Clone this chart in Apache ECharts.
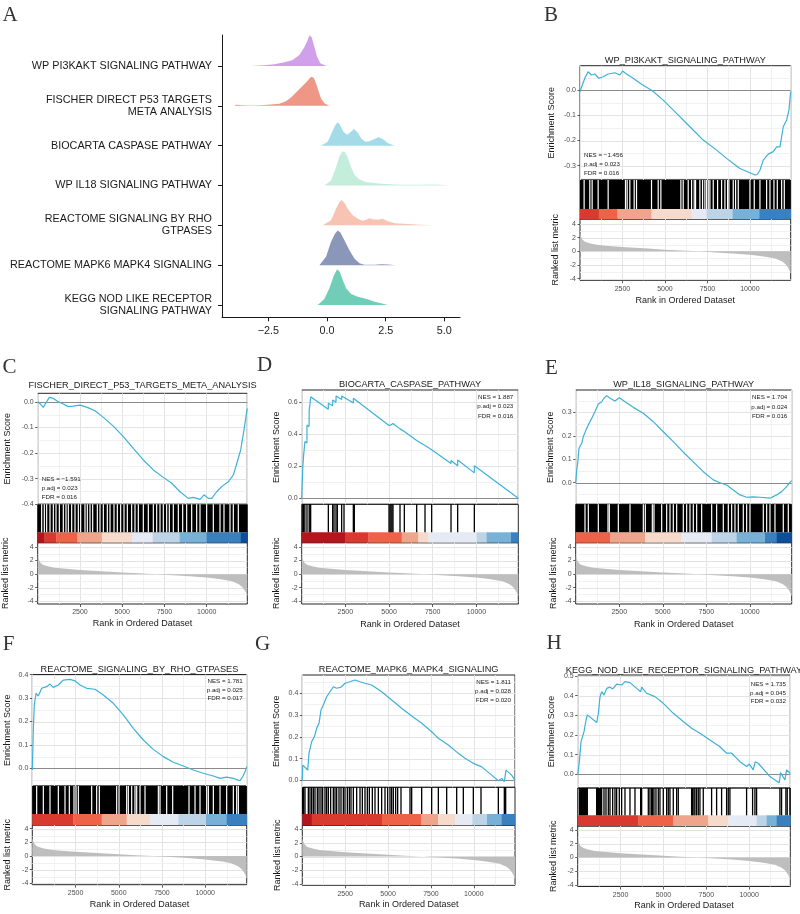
<!DOCTYPE html>
<html><head><meta charset="utf-8">
<script src="https://cdn.jsdelivr.net/npm/echarts@6/dist/echarts.min.js"></script>
<style>html,body{margin:0;padding:0;background:#fff}#c{width:800px;height:914px}</style>
</head><body><div id="c"></div>
<script>
// ================= DATA =================
// Panel A: ridge plot (top to bottom)
const ridgeLabels = ['WP PI3KAKT SIGNALING PATHWAY','FISCHER DIRECT P53 TARGETS\nMETA ANALYSIS','BIOCARTA CASPASE PATHWAY','WP IL18 SIGNALING PATHWAY','REACTOME SIGNALING BY RHO\nGTPASES','REACTOME MAPK6 MAPK4 SIGNALING','KEGG NOD LIKE RECEPTOR\nSIGNALING PATHWAY'];
const ridgeXTicks = [-2.5, 0, 2.5, 5];
const ridgeX_pi3k = [-3.245,-2.676,-2.249,-1.822,-1.608,-1.466,-1.181,-0.968,-0.854,-0.754,-0.655,-0.541,-0.427,-0.285,-0.043,0.171];
const ridgeH_pi3k = [0,0.017,0.042,0.092,0.126,0.151,0.276,0.469,0.611,0.770,0.720,0.485,0.234,0.067,0.008,0];
const ridgeX_p53 = [-3.957,-3.886,-3.53,-3.103,-2.533,-2.035,-1.751,-1.537,-1.324,-1.11,-0.897,-0.754,-0.669,-0.569,-0.47,-0.37,-0.256,-0.114,0.1];
const ridgeH_p53 = [0,0.025,0.017,0.008,0.025,0.05,0.117,0.209,0.335,0.46,0.586,0.686,0.728,0.703,0.569,0.377,0.184,0.067,0];
const ridgeX_casp = [-0.256,0.028,0.242,0.356,0.455,0.555,0.697,0.854,1.025,1.139,1.281,1.452,1.623,1.808,2.021,2.192,2.377,2.59,2.875];
const ridgeH_casp = [0,0.1,0.377,0.519,0.586,0.519,0.351,0.276,0.351,0.418,0.351,0.184,0.1,0.109,0.167,0.209,0.167,0.067,0];
const ridgeX_il18 = [-0.114,0.171,0.384,0.527,0.669,0.769,0.882,1.025,1.167,1.381,1.665,1.95,2.306,2.875,3.444,4.014,4.441,4.868,5.152];
const ridgeH_il18 = [0,0.126,0.46,0.736,0.862,0.837,0.711,0.46,0.268,0.151,0.084,0.067,0.042,0.025,0.017,0.017,0.025,0.017,0];
const ridgeX_rho = [-0.185,0.171,0.384,0.527,0.626,0.74,0.882,1.096,1.309,1.523,1.665,1.808,1.95,2.163,2.377,2.59,2.875,3.444,4.014,4.583];
const ridgeH_rho = [0,0.126,0.418,0.586,0.636,0.569,0.418,0.251,0.167,0.117,0.142,0.176,0.151,0.142,0.167,0.1,0.05,0.033,0.017,0];
const ridgeX_mapk = [-0.327,-0.043,0.171,0.342,0.455,0.569,0.74,0.954,1.167,1.381,1.594,2.021,2.306,2.59,2.946];
const ridgeH_mapk = [0,0.209,0.586,0.795,0.870,0.820,0.628,0.377,0.167,0.05,0.008,0.008,0.025,0.017,0];
const ridgeX_nod = [-0.399,-0.114,0.1,0.285,0.427,0.541,0.669,0.811,1.025,1.309,1.736,2.021,2.306,2.59];
const ridgeH_nod = [0,0.151,0.418,0.736,0.895,0.837,0.628,0.418,0.276,0.209,0.142,0.084,0.042,0];

// GSEA panels
const rankMax = 12400;
const rankTicks = [2500, 5000, 7500, 10000];
const metricTicks = [-4, -2, 0, 2, 4];
const rankMetric = [[0,2.7],[50,2.2],[150,1.7],[300,1.4],[600,1.15],[1000,0.95],[1500,0.82],[2500,0.62],[4000,0.4],[5000,0.25],[6000,0.12],[7000,0],[8000,-0.15],[9000,-0.3],[10000,-0.5],[10600,-0.68],[11000,-0.82],[11500,-1.05],[11900,-1.5],[12100,-1.9],[12250,-2.4],[12350,-2.9],[12400,-3.3]];

const titleB = 'WP_PI3KAKT_SIGNALING_PATHWAY';
const statsB = ['NES = \u22121.456','p.adj = 0.023','FDR = 0.016'];
const esTicksB = [-0.3,-0.2,-0.1,0];
const esB = [[0,-0.005],[88,0.012],[283,0.048],[477,0.074],[677,0.061],[872,0.065],[1107,0.048],[1360,0.054],[1655,0.065],[2050,0.070],[2344,0.061],[2503,0.077],[2739,0.065],[3128,0.048],[3622,0.024],[4111,0.004],[4306,-0.005],[4895,-0.039],[5684,-0.092],[6467,-0.145],[7251,-0.198],[8040,-0.238],[8629,-0.271],[9018,-0.291],[9412,-0.311],[10001,-0.328],[10296,-0.337],[10431,-0.335],[10590,-0.318],[10784,-0.278],[11079,-0.254],[11374,-0.244],[11574,-0.225],[11768,-0.225],[11963,-0.145],[12163,-0.118],[12298,-0.078],[12400,-0.005]];
const gapsB = [243,577,715,1068,1657,2678,2776,2933,3188,3326,4209,4602,4759,5937,6074,6369,6566,6722,6801,7056,7213,7351,7449,7547,7645,7841,8097,8333,8529,8686,8764,9019,9157,9314,10001,10256,10590,10983,11179,11415,11611,11867,12023];
const segB = [[0,1107,1],[1107,2207,2],[2207,4209,3],[4209,6566,4],[6566,7449,5],[7449,8980,6],[8980,10551,7],[10551,12400,8]];

const titleC = 'FISCHER_DIRECT_P53_TARGETS_META_ANALYSIS';
const statsC = ['NES = \u22121.591','p.adj = 0.023','FDR = 0.016'];
const esTicksC = [-0.4,-0.3,-0.2,-0.1,0];
const esC = [[0,0.0],[177,-0.010],[331,-0.022],[473,-0.006],[686,0.017],[923,0.013],[1219,0.0],[1514,-0.009],[1810,-0.019],[2106,-0.017],[2502,-0.013],[2934,-0.022],[3390,-0.035],[3881,-0.061],[4473,-0.095],[5065,-0.136],[5656,-0.182],[6248,-0.227],[6840,-0.266],[7431,-0.295],[7928,-0.318],[8419,-0.351],[8910,-0.377],[9206,-0.373],[9600,-0.381],[9837,-0.363],[10092,-0.377],[10293,-0.377],[10589,-0.351],[10885,-0.331],[11275,-0.312],[11571,-0.286],[11808,-0.234],[12009,-0.188],[12204,-0.110],[12322,-0.058],[12400,-0.026]];
const gapsC = [235,392,530,728,925,1083,1280,1516,1674,1812,2010,2207,2404,2542,2798,2936,3094,3252,3528,3686,3883,4119,4277,4514,4711,4908,5106,5303,5559,5756,5953,6249,6545,6841,7038,7235,7432,7630,7787,8024,8320,8576,8813,9109,9405,9602,9996,10390,10785,11021,11376,11573,11869];
const segC = [[0,400,0],[400,1100,1],[1100,2350,2],[2350,3800,3],[3800,5580,4],[5580,6800,5],[6800,8400,6],[8400,9980,7],[9980,12000,8],[12000,12400,9]];

const titleD = 'BIOCARTA_CASPASE_PATHWAY';
const statsD = ['NES = 1.887','p.adj = 0.023','FDR = 0.016'];
const esTicksD = [0,0.2,0.4,0.6];
const esD = [[0,0],[60,0],[62,0.195],[110,0.19],[112,0.27],[180,0.262],[182,0.355],[300,0.345],[302,0.458],[425,0.449],[427,0.552],[473,0.548],[475,0.59],[511,0.587],[513,0.635],[1523,0.556],[1526,0.594],[1773,0.578],[1776,0.614],[1964,0.600],[1967,0.639],[2288,0.617],[2291,0.639],[2956,0.596],[2959,0.625],[4998,0.455],[5000,0.462],[5055,0.458],[5057,0.464],[5113,0.459],[5115,0.465],[5170,0.460],[5172,0.466],[5227,0.461],[5229,0.467],[5628,0.434],[5630,0.438],[5876,0.417],[5878,0.421],[6582,0.362],[6584,0.37],[7059,0.330],[7061,0.336],[7441,0.304],[7443,0.31],[8548,0.218],[8550,0.236],[8929,0.204],[8931,0.239],[9883,0.159],[9885,0.204],[12400,0]];
const hitsD = [60,112,182,302,427,475,513,1525,1773,1849,1964,2040,2288,2422,2956,3013,4998,5055,5113,5170,5227,5628,5876,6582,7059,7441,8548,8929,9883];
const segD = [[0,2479,0],[2479,3815,1],[3815,5723,2],[5723,6677,3],[6677,7250,4],[7250,10019,5],[10019,10591,6],[10591,11982,7],[11982,12400,8]];

const titleE = 'WP_IL18_SIGNALING_PATHWAY';
const statsE = ['NES = 1.704','p.adj = 0.024','FDR = 0.016'];
const esTicksE = [0,0.1,0.2,0.3];
const esE = [[0,0],[57,0.054],[115,0.083],[189,0.147],[344,0.168],[436,0.196],[591,0.225],[723,0.246],[918,0.274],[1108,0.303],[1297,0.335],[1492,0.345],[1624,0.360],[1779,0.371],[1969,0.360],[2256,0.348],[2503,0.362],[2830,0.345],[3306,0.321],[3880,0.296],[4454,0.260],[5028,0.217],[5602,0.175],[6176,0.130],[6750,0.089],[7324,0.047],[7898,0.012],[8280,0.0],[8667,-0.010],[9044,-0.031],[9431,-0.052],[9815,-0.062],[10194,-0.060],[10579,-0.062],[11153,-0.066],[11536,-0.052],[11823,-0.038],[12110,-0.017],[12242,-0.003],[12400,0.009]];
const gapsE = [534,725,1299,1854,1930,2447,3117,3882,3997,4399,4494,4935,5222,5413,5604,5796,6178,6370,6561,6752,6944,7231,7805,8092,8474,8761,8953,9144,9335,9622,9814,10005,10770,10962,11153,11440,11918,12205];
const segE = [[0,1969,2],[1969,3978,3],[3978,6083,4],[6083,7805,5],[7805,9240,6],[9240,10866,7],[10866,11536,8],[11536,12400,9]];

const titleF = 'REACTOME_SIGNALING_BY_RHO_GTPASES';
const statsF = ['NES = 1.781','p.adj = 0.025','FDR = 0.017'];
const esTicksF = [0,0.1,0.2,0.3,0.4];
const esF = [[0,-0.007],[58,0.164],[116,0.271],[214,0.32],[347,0.309],[544,0.342],[833,0.349],[1024,0.36],[1215,0.346],[1504,0.356],[1793,0.377],[2181,0.380],[2470,0.374],[2759,0.356],[3146,0.342],[3627,0.338],[4107,0.313],[4685,0.278],[5263,0.228],[5842,0.171],[6420,0.121],[6999,0.081],[7577,0.050],[8155,0.026],[8734,0.010],[9312,-0.007],[9891,-0.021],[10469,-0.033],[10857,-0.043],[11243,-0.038],[11626,-0.043],[12013,-0.053],[12170,-0.036],[12303,-0.015],[12400,0.007]];
const gapsF = [253,638,1024,1506,1891,2142,2412,2528,2663,3434,3723,3877,4880,5015,5458,5554,5748,5940,6037,6229,6519,7290,7386,7772,8119,9063,9411,9700,10086,10182,10471,10857,11242,11628,11821,11917];
const segF = [[0,2373,1],[2373,4012,2],[4012,5458,3],[5458,6808,4],[6808,8447,5],[8447,10047,6],[10047,11242,7],[11242,12400,8]];

const titleG = 'REACTOME_MAPK6_MAPK4_SIGNALING';
const statsG = ['NES = 1.811','p.adj = 0.028','FDR = 0.020'];
const esTicksG = [0,0.1,0.2,0.3,0.4];
const esG = [[0,0],[23,0.07],[157,0.06],[315,0.047],[391,0.124],[548,0.178],[700,0.2],[840,0.239],[974,0.262],[1090,0.323],[1224,0.346],[1422,0.384],[1615,0.407],[1808,0.430],[2004,0.423],[2256,0.428],[2489,0.446],[2780,0.453],[3072,0.461],[3364,0.453],[3655,0.446],[4044,0.438],[4627,0.407],[5210,0.369],[5793,0.331],[6376,0.296],[6960,0.262],[7543,0.223],[7931,0.193],[8512,0.162],[9096,0.124],[9485,0.101],[9970,0.078],[10459,0.062],[11042,0.024],[11427,-0.002],[11625,0.009],[11777,-0.006],[11876,0.047],[12208,0.024],[12400,0.0]];
const hitsG = [20,80,157,352,449,546,643,740,876,974,1090,1187,1323,1420,1518,1654,1809,1906,2004,2140,2256,2392,2489,2625,2742,2839,2975,3170,3364,3500,3655,3791,3908,4083,4238,4433,4627,4821,4977,5113,5210,5307,5443,5560,5754,6279,6376,6959,7542,7931,8417,9000,9388,9971,10418,11429,11778,11856];
const segG = [[0,550,0],[550,4641,1],[4641,6920,2],[6920,7917,3],[7917,8914,4],[8914,9911,5],[9911,10768,6],[10768,11625,7],[11625,12400,8]];

const titleH = 'KEGG_NOD_LIKE_RECEPTOR_SIGNALING_PATHWAY';
const statsH = ['NES = 1.735','p.adj = 0.045','FDR = 0.032'];
const esTicksH = [0,0.1,0.2,0.3,0.4,0.5];
const esH = [[0,0],[97,0.064],[194,0.166],[291,0.174],[369,0.217],[486,0.276],[563,0.302],[1108,0.263],[1205,0.310],[1302,0.395],[1399,0.420],[1535,0.403],[1691,0.437],[1883,0.443],[2041,0.434],[2274,0.459],[2565,0.454],[2757,0.471],[3049,0.466],[3440,0.437],[3673,0.420],[3731,0.443],[4023,0.412],[4507,0.395],[4991,0.361],[5575,0.310],[6157,0.268],[6646,0.234],[7130,0.209],[7713,0.174],[8296,0.140],[8687,0.107],[8978,0.107],[9462,0.064],[9853,0.039],[10004,0.052],[10237,0.022],[10354,0.064],[10529,0.056],[11211,-0.012],[11753,-0.043],[11835,0.008],[12087,-0.029],[12184,0.022],[12400,0.005]];
const hitsH = [95,153,212,270,328,387,445,503,561,1106,1164,1223,1281,1339,1397,1533,1650,1786,1883,2039,2175,2272,2427,2563,2758,3049,3341,3671,3730,4118,4215,4312,4371,4448,4565,4701,4798,4992,5187,5284,5381,5575,5770,5867,6644,6703,6780,6839,6936,7033,7130,7324,7810,8102,8393,8685,8782,8879,9851,10201,10337,10434,11794,11891,12144,12221,12377];
const segH = [[0,3535,1],[3535,5575,2],[5575,7616,3],[7616,8782,4],[8782,10434,5],[10434,11017,6],[11017,11600,7],[11600,12400,8]];

// ================= STYLE / LAYOUT =================
const SANS = '"Liberation Sans", Arial, Helvetica, sans-serif';
const SERIF = '"Liberation Serif", "Times New Roman", serif';
const GRID_MAJ = '#e3e3e3', GRID_MIN = '#eeeeee', BORDER = '#262626';
const ES_COLOR = '#3db1d7';
const PAL = ['#b3151d','#d93a30','#ee6347','#efa58b','#f6dacb','#e6eaf5','#bcd4e6','#78b1d8','#3a80be','#0e4e98'];
const ridgeColors = ['#d0a0eb','#ee9787','#a4dbe9','#c4eedb','#f7c4b3','#8b97b9','#70cdb8'];

const LAYOUT = {
  B:{left:580, right:790.7, esTop:65.7, esBot:180, hitBot:209, cbBot:219, rkBot:280.3, esMin:-0.357, esMax:0.098, rkMin:-4.23, rkMax:4.73, titleY:60, statsX:584, statsY:[155,164.3,173.3], statsAlign:'left', esNameX:552, rkNameX:556, xNameY:301, xLabY:290, letter:[551,15.5]},
  C:{left:37.7, right:247.3, esTop:393.3, esBot:504.3, hitBot:532.3, cbBot:542.7, rkBot:604, esMin:-0.4, esMax:0.033, rkMin:-4.4, rkMax:4.63, titleY:385.7, statsX:41.7, statsY:[479.3,488.7,497.7], statsAlign:'left', esNameX:8, rkNameX:6, xNameY:623.5, xLabY:613, letter:[9.5,367]},
  D:{left:301.7, right:518.3, esTop:390, esBot:504.3, hitBot:532.3, cbBot:542.7, rkBot:604, esMin:-0.0375, esMax:0.677, rkMin:-4.4, rkMax:4.63, titleY:384.3, statsX:513.3, statsY:[397.3,406.7,416], statsAlign:'right', esNameX:277, rkNameX:277, xNameY:624.3, xLabY:613.3, letter:[264.5,365]},
  E:{left:575.7, right:791.7, esTop:390, esBot:504.3, hitBot:532.3, cbBot:542.7, rkBot:604, esMin:-0.092, esMax:0.395, rkMin:-4.4, rkMax:4.63, titleY:384.3, statsX:787.3, statsY:[397.7,407,416.7], statsAlign:'right', esNameX:550.5, rkNameX:553.5, xNameY:624.3, xLabY:613, letter:[551.5,368.5]},
  F:{left:32.3, right:246.7, esTop:674.5, esBot:786, hitBot:814, cbBot:825, rkBot:884.7, esMin:-0.0756, esMax:0.401, rkMin:-4.2, rkMax:4.54, titleY:669, statsX:242.7, statsY:[681,690,698.3], statsAlign:'right', esNameX:7.5, rkNameX:7.5, xNameY:904.7, xLabY:894.3, letter:[8.5,644.5]},
  G:{left:302.3, right:515, esTop:675, esBot:787.3, hitBot:814, cbBot:825.3, rkBot:885.3, esMin:-0.032, esMax:0.484, rkMin:-4.19, rkMax:4.54, titleY:669, statsX:511, statsY:[682.3,691,700], statsAlign:'right', esNameX:277, rkNameX:278, xNameY:905, xLabY:895, letter:[262.5,644]},
  H:{left:577.7, right:790.3, esTop:675, esBot:788, hitBot:815.3, cbBot:826, rkBot:886.5, esMin:-0.07, esMax:0.505, rkMin:-4.22, rkMax:4.58, titleY:670, statsX:786, statsY:[684.3,693.3,701], statsAlign:'right', esNameX:552, rkNameX:554, xNameY:906, xLabY:895.3, letter:[554,643.5]}
};

const panels = [
  {id:'B', title:titleB, stats:statsB, ticks:esTicksB, es:esB, marks:gapsB, dense:true, segs:segB},
  {id:'C', title:titleC, stats:statsC, ticks:esTicksC, es:esC, marks:gapsC, dense:true, segs:segC},
  {id:'D', title:titleD, stats:statsD, ticks:esTicksD, es:esD, marks:hitsD, dense:false, segs:segD},
  {id:'E', title:titleE, stats:statsE, ticks:esTicksE, es:esE, marks:gapsE, dense:true, segs:segE},
  {id:'F', title:titleF, stats:statsF, ticks:esTicksF, es:esF, marks:gapsF, dense:true, segs:segF},
  {id:'G', title:titleG, stats:statsG, ticks:esTicksG, es:esG, marks:hitsG, dense:false, segs:segG},
  {id:'H', title:titleH, stats:statsH, ticks:esTicksH, es:esH, marks:hitsH, dense:false, segs:segH}
];

// ================= BUILD =================
const grids = [], xAxes = [], yAxes = [], series = [], graphics = [];

function minorsFrom(ticks, min, max){
  const step = ticks[1]-ticks[0], out = [];
  for (let i = -1; i < ticks.length; i++){
    const m = +(ticks[0] + (i+0.5)*step).toFixed(4);
    if (m > min && m < max) out.push(m);
  }
  return out;
}
function hGridSeries(xi, yi, majors, minors){
  const data = majors.map(v=>[0,v,1]).concat(minors.map(v=>[0,v,0]));
  return {type:'custom', xAxisIndex:xi, yAxisIndex:yi, silent:true, z:1, data,
    renderItem:(params, api)=>{
      const cs = params.coordSys;
      const y = Math.round(api.coord([0, api.value(1)])[1]) + 0.5;
      const major = api.value(2) === 1;
      return {type:'line', shape:{x1:cs.x, y1:y, x2:cs.x+cs.width, y2:y}, style:{stroke: major?GRID_MAJ:GRID_MIN, lineWidth: major?1:0.8}};
    }};
}
function zeroLine(xi, yi){
  return {type:'custom', xAxisIndex:xi, yAxisIndex:yi, silent:true, z:2, data:[[0,0]],
    renderItem:(params, api)=>{
      const cs = params.coordSys;
      const y = Math.round(api.coord([0,0])[1]) + 0.5;
      return {type:'line', shape:{x1:cs.x, y1:y, x2:cs.x+cs.width, y2:y}, style:{stroke:'#8a8a8a', lineWidth:1}};
    }};
}
function ridgeSeries(xs, hs, base, color, z){
  const data = xs.map((x,i)=>[x, base + hs[i]]);
  return {type:'custom', xAxisIndex:0, yAxisIndex:0, silent:true, z, data,
    renderItem:(params, api)=>{
      if (params.dataIndex !== 0) return;
      const pts = [api.coord([xs[0], base])];
      data.forEach(d=>pts.push(api.coord(d)));
      pts.push(api.coord([xs[xs.length-1], base]));
      return {type:'polygon', shape:{points:pts}, style:{fill:color}};
    }};
}
function txt(text, x, y, font, fill, align){
  return {type:'text', z:100, zlevel:0, silent:true, style:{text, x, y, font, fill, textAlign:align, textVerticalAlign:'middle', align, verticalAlign:'middle'}};
}

// ---- Panel A ----
grids.push({left:222, top:35, width:238, height:282.3, show:false});
xAxes.push({type:'value', gridIndex:0, min:-4.48, max:5.67,
  axisLine:{show:true, onZero:false, lineStyle:{color:'#1a1a1a', width:1}},
  axisTick:{show:true, length:4, customValues:ridgeXTicks, lineStyle:{color:'#1a1a1a'}},
  axisLabel:{customValues:ridgeXTicks, formatter:v=>v.toFixed(1).replace('-','\u2212'), fontSize:10.8, fontFamily:SANS, color:'#222', margin:8},
  splitLine:{show:false}});
const ridgeY = [1,2,3,4,5,6,7];
yAxes.push({type:'value', gridIndex:0, min:0.691, max:7.778,
  axisLine:{show:true, onZero:false, lineStyle:{color:'#1a1a1a', width:1}},
  axisTick:{show:true, length:4, customValues:ridgeY, lineStyle:{color:'#1a1a1a'}},
  axisLabel:{customValues:ridgeY, formatter:v=>ridgeLabels[7-v], fontSize:10.8, lineHeight:12, fontFamily:SANS, color:'#1a1a1a', margin:10, align:'right'},
  splitLine:{show:false}});
const ridgeXs = [ridgeX_pi3k, ridgeX_p53, ridgeX_casp, ridgeX_il18, ridgeX_rho, ridgeX_mapk, ridgeX_nod];
const ridgeHs = [ridgeH_pi3k, ridgeH_p53, ridgeH_casp, ridgeH_il18, ridgeH_rho, ridgeH_mapk, ridgeH_nod];
ridgeXs.forEach((xs,i)=>series.push(ridgeSeries(xs, ridgeHs[i], 7-i, ridgeColors[i], 2+i)));
graphics.push(txt('A', 10, 15, '21px '+SERIF, '#333', 'center'));

// ---- GSEA panels ----
panels.forEach((p)=>{
  const L = LAYOUT[p.id];
  const width = L.right - L.left;
  const g0 = grids.length, g1 = g0+1, g2 = g0+2;
  grids.push({left:L.left, top:L.esTop, width, height:L.esBot-L.esTop, show:true, borderColor:BORDER, borderWidth:1, backgroundColor:'rgba(0,0,0,0)'});
  grids.push({left:L.left, top:L.esBot, width, height:L.cbBot-L.esBot, show:true, borderColor:BORDER, borderWidth:1, backgroundColor:'rgba(0,0,0,0)'});
  grids.push({left:L.left, top:L.cbBot, width, height:L.rkBot-L.cbBot, show:true, borderColor:BORDER, borderWidth:1, backgroundColor:'rgba(0,0,0,0)'});
  const baseX = (gi, withGrid)=>({type:'value', gridIndex:gi, min:0, max:rankMax, interval:2500,
    axisLine:{show:false, onZero:false}, axisTick:{show:false}, axisLabel:{show:false},
    splitLine:{show:withGrid, lineStyle:{color:GRID_MAJ, width:1}},
    minorTick:{show:false, splitNumber:2},
    minorSplitLine:{show:withGrid, lineStyle:{color:GRID_MIN, width:0.8}}});
  xAxes.push(baseX(g0, true));
  xAxes.push(baseX(g1, false));
  const xr = baseX(g2, true);
  xr.axisTick = {show:true, length:3, customValues:rankTicks, lineStyle:{color:'#333', width:0.8}};
  xr.axisLabel = {show:true, customValues:rankTicks, formatter:v=>String(v), fontSize:7, fontFamily:SANS, color:'#4d4d4d', margin:5};
  xr.name = 'Rank in Ordered Dataset'; xr.nameLocation = 'middle';
  xr.nameGap = L.xNameY - L.rkBot - 4.5;
  xr.nameTextStyle = {fontSize:9, fontFamily:SANS, color:'#1a1a1a'};
  xAxes.push(xr);

  yAxes.push({type:'value', gridIndex:g0, min:L.esMin, max:L.esMax,
    axisLine:{show:false, onZero:false},
    axisTick:{show:true, length:2.5, customValues:p.ticks, lineStyle:{color:'#333', width:0.8}},
    axisLabel:{customValues:p.ticks, formatter:v=>v.toFixed(1), fontSize:7, fontFamily:SANS, color:'#4d4d4d', margin:4},
    splitLine:{show:false},
    name:'Enrichment Score', nameLocation:'middle', nameGap:L.left - L.esNameX - 4.5,
    nameTextStyle:{fontSize:9, fontFamily:SANS, color:'#1a1a1a'}});
  yAxes.push({type:'value', gridIndex:g1, min:0, max:1, show:false});
  yAxes.push({type:'value', gridIndex:g2, min:L.rkMin, max:L.rkMax,
    axisLine:{show:false, onZero:false},
    axisTick:{show:true, length:2.5, customValues:metricTicks, lineStyle:{color:'#333', width:0.8}},
    axisLabel:{customValues:metricTicks, formatter:v=>String(v), fontSize:7, fontFamily:SANS, color:'#4d4d4d', margin:4},
    splitLine:{show:false},
    name:'Ranked list metric', nameLocation:'middle', nameGap:L.left - L.rkNameX - 4.5,
    nameTextStyle:{fontSize:9, fontFamily:SANS, color:'#1a1a1a'}});

  // ES panel
  series.push(hGridSeries(g0, g0, p.ticks, minorsFrom(p.ticks, L.esMin, L.esMax)));
  series.push(zeroLine(g0, g0));
  series.push({type:'line', xAxisIndex:g0, yAxisIndex:g0, data:p.es, showSymbol:false, symbol:'none', z:4,
    lineStyle:{color:ES_COLOR, width:1.2}, itemStyle:{color:ES_COLOR}, silent:true});

  // hits + colour bar
  const cbFrac = (L.cbBot - L.hitBot) / (L.cbBot - L.esBot);
  series.push({type:'custom', xAxisIndex:g1, yAxisIndex:g1, silent:true, z:2, data:p.segs,
    renderItem:(params, api)=>{
      const a = api.coord([api.value(0), 0]);
      const b = api.coord([api.value(1), cbFrac]);
      return {type:'rect', shape:{x:a[0], y:b[1], width:b[0]-a[0]+0.3, height:a[1]-b[1]}, style:{fill:PAL[api.value(2)]}};
    }});
  if (p.dense){
    series.push({type:'custom', xAxisIndex:g1, yAxisIndex:g1, silent:true, z:2, data:[[0, rankMax]],
      renderItem:(params, api)=>{
        const a = api.coord([api.value(0), 1]);
        const b = api.coord([api.value(1), cbFrac]);
        return {type:'rect', shape:{x:a[0], y:a[1], width:b[0]-a[0], height:b[1]-a[1]}, style:{fill:'#000'}};
      }});
  }
  const markColor = p.dense ? '#ffffff' : '#000000';
  const markW = p.dense ? 1.2 : 1.3;
  series.push({type:'custom', xAxisIndex:g1, yAxisIndex:g1, silent:true, z:3, data:p.marks.map(r=>[r, 0.5]),
    renderItem:(params, api)=>{
      const x = api.coord([api.value(0), 0])[0];
      const yT = api.coord([0, 1])[1], yB = api.coord([0, cbFrac])[1];
      return {type:'rect', shape:{x:x-markW/2, y:yT, width:markW, height:yB-yT}, style:{fill:markColor}};
    }});

  // ranked metric panel
  series.push(hGridSeries(g2, g2, metricTicks, [-3,-1,1,3]));
  series.push({type:'line', xAxisIndex:g2, yAxisIndex:g2, data:rankMetric, showSymbol:false, symbol:'none', z:3, silent:true,
    lineStyle:{width:0, color:'#bebebe'}, areaStyle:{color:'#bebebe', opacity:1}});

  // texts
  graphics.push(txt(p.title, (L.left+L.right)/2, L.titleY, '9.2px '+SANS, '#1a1a1a', 'center'));
  p.stats.forEach((s,i)=>graphics.push(txt(s, L.statsX, L.statsY[i], '6.2px '+SANS, '#1a1a1a', L.statsAlign)));
  graphics.push(txt(p.id, L.letter[0], L.letter[1], '21px '+SERIF, '#333', 'center'));
});

const option = {
  animation:false,
  backgroundColor:'#ffffff',
  textStyle:{fontFamily:SANS},
  grid:grids, xAxis:xAxes, yAxis:yAxes, series:series,
  graphic:{elements:graphics}
};
const chart = echarts.init(document.getElementById('c'), null, {renderer:'canvas', width:800, height:914});
chart.setOption(option);
</script>
</body></html>
